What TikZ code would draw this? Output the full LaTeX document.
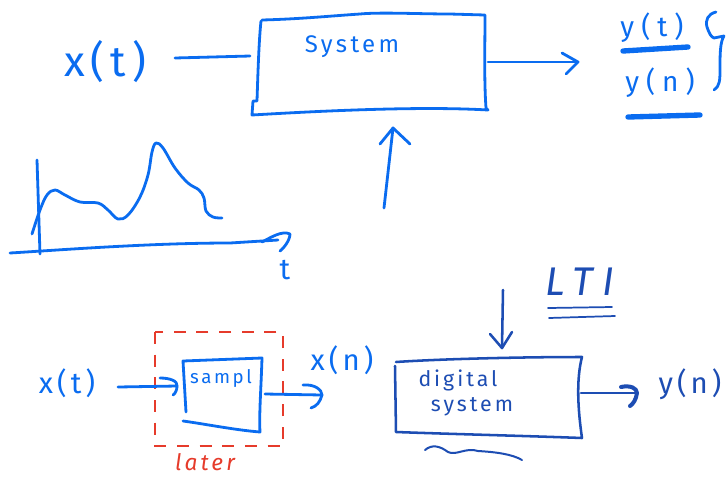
\documentclass[tikz,border=0pt]{standalone}
\usepackage{fontspec}
\setmainfont{Fira Sans}
\newfontfamily\handfont[LetterSpace=14]{Fira Sans}
\newfontfamily\handwide[LetterSpace=25]{Fira Sans}
\usetikzlibrary{calc}
\definecolor{ink}{HTML}{0A6CF0}
\definecolor{deepink}{HTML}{1D4DB3}
\definecolor{redink}{HTML}{E63B2B}
\begin{document}
\begin{tikzpicture}[x=0.75pt,y=-0.75pt,
  pen/.style={draw=ink,line width=2.1pt,line cap=round,line join=round},
  deeppen/.style={draw=deepink,line width=1.9pt,line cap=round,line join=round},
  lbl/.style={text=ink,inner sep=0pt},
  deeplbl/.style={text=deepink,inner sep=0pt},
  boxnode/.style={inner sep=0pt,draw=none}]
\useasboundingbox (0,0) rectangle (726,480);
\fill[white] (0,0) rectangle (726,480);

% ---------- continuous system ----------
\node[lbl,font=\handfont\fontsize{32}{32}\selectfont] (xt) at (105,62) {x(t)};
\node[boxnode,minimum width=230*0.75pt,minimum height=95*0.75pt] (sys) at (373,65) {};
\node[lbl,font=\handfont\fontsize{18}{18}\selectfont] (systxt) at (352,47) {System};
\draw[pen] (262,20) .. controls (300,19) and (330,16) .. (360,14)
  .. controls (380,12) and (420,14) .. (450,14) -- (485,15)
  .. controls (485,45) and (484,80) .. (486,108) -- (488,110)
  .. controls (420,106) and (320,111) .. (252,115) -- (253,101) -- (257,101)
  .. controls (258,70) and (259,40) .. (261,21);
\coordinate (instart) at (175,58);
\coordinate (inend) at (250,56);
\draw[pen] (instart) -- (inend);
\coordinate (outend) at (578,62);
\draw[pen] (488,62) -- (outend);
\draw[pen] (562,53) -- (outend) -- (566,74);
\coordinate (ctrl) at (384,208);
\coordinate (ctrltip) at (393,128);
\draw[pen] (ctrl) -- (ctrltip);
\draw[pen] (380,144) -- (ctrltip) -- (410,144);

% outputs
\node[lbl,font=\handwide\fontsize{21}{21}\selectfont] (yt) at (652,28) {y(t)};
\node[lbl,font=\handwide\fontsize{21}{21}\selectfont] (yn) at (660,83) {y(n)};
\draw[pen,line width=4pt] (623,51) -- (688,47);
\draw[pen,line width=4pt] (628,117) -- (700,115);
\draw[pen] (716,12) .. controls (708,14) and (705,20) .. (707,27)
  .. controls (709,33) and (711,37) .. (714,38) -- (724,36)
  .. controls (720,42) and (720,55) .. (720,68)
  .. controls (720,80) and (720,86) .. (714,90);

% signal sketch
\draw[pen] (37,160) -- (40,254);
\draw[pen] (10,253) .. controls (60,250) and (150,243) .. (230,243) -- (278,240);
\draw[pen] (262,242) .. controls (270,238) and (282,230) .. (290,234)
  .. controls (290,240) and (284,248) .. (280,251);
\node[lbl,font=\fontsize{22}{22}\selectfont] (tlbl) at (285,270) {t};
\draw[pen] plot[smooth,tension=0.6] coordinates {(32,234) (40,210) (47,195) (55,190) (65,195)
  (80,202) (98,203) (108,210) (118,219) (128,215) (140,197) (148,175) (152,152) (156,143)
  (163,148) (175,168) (188,183) (199,190) (204,198) (206,211) (213,217) (222,218)};

% ---------- sampler ----------
\node[lbl,font=\handfont\fontsize{22}{22}\selectfont] (xt2) at (67,383) {x(t)};
\node[boxnode,minimum width=80*0.75pt,minimum height=75*0.75pt] (smp) at (222,395) {};
\node[lbl,font=\handfont\fontsize{14}{14}\selectfont] (smptxt) at (221,378) {sampl};
\draw[pen] (186,412) -- (183,361) -- (262,358) .. controls (261,390) and (259,415) .. (260,432)
  .. controls (235,430) and (205,424) .. (183,421);
\draw[redink,line width=1.1pt,dash pattern=on 9pt off 8pt] (155,332) rectangle (283,446);
\node[text=redink,inner sep=0pt,font=\handfont\fontsize{17}{17}\selectfont\itshape] (later) at (205,462) {later};
\coordinate (smpin) at (177,386);
\coordinate (smpsrc) at (118,387);
\draw[pen] (smpsrc) -- (smpin);
\draw[pen] (160,378) .. controls (170,378) and (178,381) .. (smpin) .. controls (177,389) and (176,393) .. (173,395);
\coordinate (smpout) at (322,395);
\draw[pen] (265,394) -- (smpout);
\draw[pen] (303,385) .. controls (315,384) and (322,390) .. (smpout) .. controls (320,402) and (317,406) .. (311,408);
\node[lbl,font=\handfont\fontsize{22}{22}\selectfont] (xn) at (342,360) {x(n)};

% ---------- digital system ----------
\node[boxnode,minimum width=186*0.75pt,minimum height=80*0.75pt] (dig) at (488,397) {};
\node[deeplbl,font=\handfont\fontsize{16}{16}\selectfont] (digtxt1) at (458,380) {digital};
\node[deeplbl,font=\handfont\fontsize{16}{16}\selectfont] (digtxt2) at (472,407) {system};
\draw[deeppen] (396,362) .. controls (440,359) and (520,357) .. (582,357)
  .. controls (576,380) and (578,410) .. (582,438)
  .. controls (530,436) and (450,434) .. (396,432) -- (395,366);
\draw[deeppen,line width=1.5pt] (425,450) .. controls (432,444) and (440,446) .. (448,452)
  .. controls (456,456) and (466,447) .. (478,451) .. controls (495,452) and (512,454) .. (522,460);
\coordinate (ltisrc) at (503,290);
\coordinate (ltitip) at (502,348);
\draw[deeppen] (ltisrc) -- (ltitip);
\draw[deeppen] (490,334) -- (ltitip) -- (512,332);
\node[deeplbl,font=\handwide\fontsize{30}{30}\selectfont\itshape] (lti) at (580,282) {LTI};
\draw[deeppen,line width=1.3pt] (548,308) -- (612,307);
\draw[deeppen,line width=1.3pt] (549,318) -- (615,316);
\coordinate (digout) at (637,393);
\draw[deeppen] (581,393) -- (digout);
\draw[deeppen,line width=3pt] (621,387) .. controls (630,385) and (637,388) .. (digout) .. controls (636,400) and (633,404) .. (630,406);
\node[deeplbl,font=\handfont\fontsize{22}{22}\selectfont] (yn2) at (690,384) {y(n)};
\end{tikzpicture}
\end{document}
